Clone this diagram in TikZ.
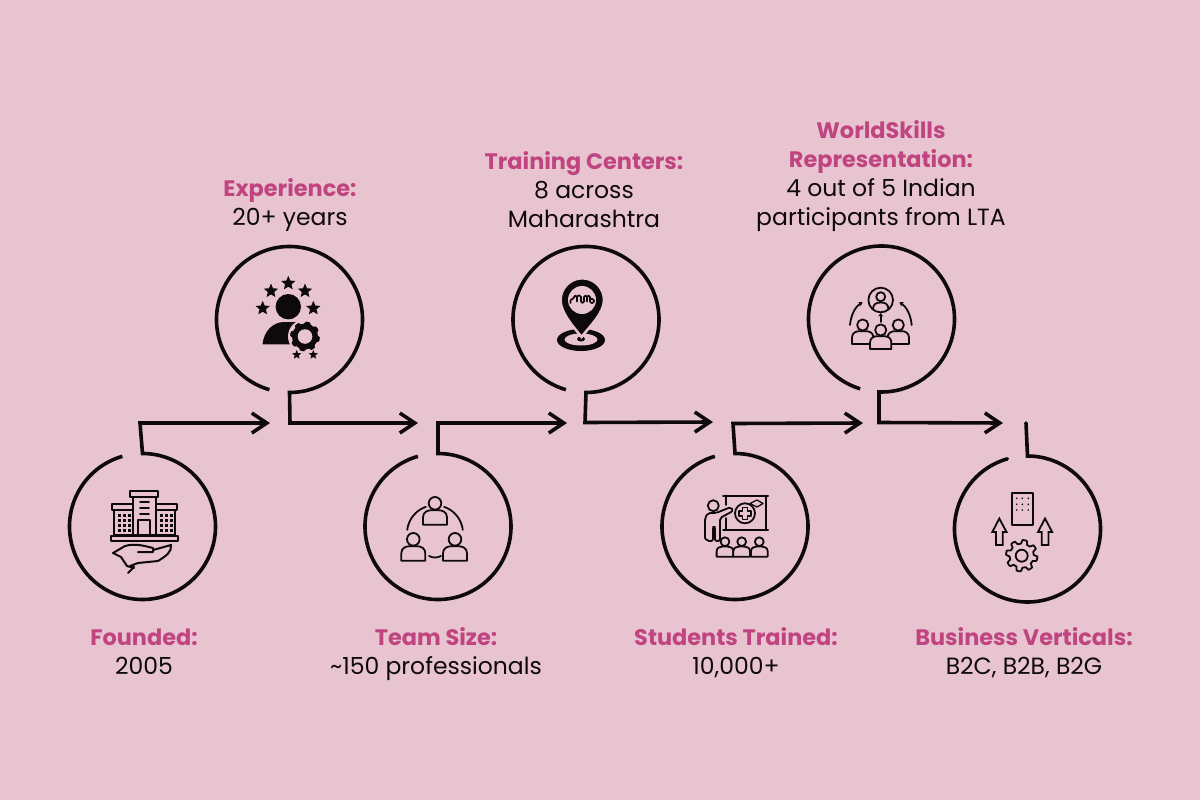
\documentclass[tikz,border=0pt]{standalone}
\usepackage{fontspec}
\setmainfont{Poppins}
\usetikzlibrary{arrows.meta}
\definecolor{pagepink}{HTML}{E8C4D0}
\definecolor{headpink}{HTML}{C0447F}
\definecolor{inkblack}{HTML}{0E0A0C}
\newcommand{\hd}[1]{\textcolor{headpink}{\fontsize{22.4}{29}\selectfont\textbf{#1}}}
\tikzset{
	flow/.style={draw=inkblack,line width=3.6pt,line join=miter},
	flowarrow/.style={flow,-{Straight Barb[length=15pt,width=20pt,line width=3.6pt]}},
	thinline/.style={draw=inkblack,line width=1.8pt,line join=round,line cap=round},
	caption/.style={align=center,text=inkblack,inner sep=0pt,font=\fontsize{23.5}{29}\selectfont}
}
\newcommand{\bust}[3]{\begin{scope}[shift={(#1,#2)},scale=#3]
		\draw[thinline,fill=pagepink] (-1.9,3.4) -- (-1.9,2.2) .. controls (-1.9,1.4) and (-1.2,1.1) .. (-0.6,1.1) -- (0.6,1.1) .. controls (1.2,1.1) and (1.9,1.4) .. (1.9,2.2) -- (1.9,3.4) -- cycle;
		\draw[thinline,fill=pagepink] (0,0) circle[radius=1];
		\end{scope}}
\newcommand{\starmark}[3]{\fill[inkblack] (#1,#2) +(-90:#3) -- +(-54:#3*0.45) -- +(-18:#3) -- +(18:#3*0.45) -- +(54:#3) -- +(90:#3*0.45) -- +(126:#3) -- +(162:#3*0.45) -- +(198:#3) -- +(234:#3*0.45) -- cycle;}
\newcommand{\gearmark}[5]{\draw[#5] plot[domain=0:360,samples=181,variable=\ga] ({#1+((#3+#4)/2+(#3-#4)/2*max(-1,min(1,2.2*sin(8*\ga))))*cos(\ga)},{#2+((#3+#4)/2+(#3-#4)/2*max(-1,min(1,2.2*sin(8*\ga))))*sin(\ga)}) -- cycle;}
\begin{document}
\begin{tikzpicture}[x=1pt,y=1pt,yscale=-1]
		\useasboundingbox (0,0) rectangle (1200,800);
		\fill[pagepink] (0,0) rectangle (1200,800);
		\coordinate (C1) at (142.5,526.5);
		\coordinate (C2) at (289.5,319.5);
		\coordinate (C3) at (438,526.5);
		\coordinate (C4) at (586,319.5);
		\coordinate (C5) at (735,526.5);
		\coordinate (C6) at (881.5,319);
		\coordinate (C7) at (1027.5,529);
		\coordinate (S1) at (140,423);
		\coordinate (T1) at (270,423);
		\coordinate (S2) at (290,423);
		\coordinate (T2) at (418,423);
		\coordinate (S3) at (438,423);
		\coordinate (T3) at (567,423);
		\coordinate (S4) at (585,422.5);
		\coordinate (T4) at (713,422);
		\coordinate (S5) at (733,423.5);
		\coordinate (T5) at (863,423);
		\coordinate (S6) at (879,422.5);
		\coordinate (T6) at (1003,423);
		\coordinate (S7) at (1026,423);
		\draw[flowarrow] (C1) ++(-106:73) arc[start angle=-106,end angle=-450,radius=73] -- (S1) -- (T1);
		\draw[flowarrow] (C2) ++(106:73) arc[start angle=106,end angle=450,radius=73] -- (S2) -- (T2);
		\draw[flowarrow] (C3) ++(-106:73) arc[start angle=-106,end angle=-450,radius=73] -- (S3) -- (T3);
		\draw[flowarrow] (C4) ++(106:73) arc[start angle=106,end angle=450,radius=73] -- (S4) -- (T4);
		\draw[flowarrow] (C5) ++(-106:73) arc[start angle=-106,end angle=-450,radius=73] -- (S5) -- (T5);
		\draw[flowarrow] (C6) ++(107:73) arc[start angle=107,end angle=452,radius=73] -- (S6) -- (T6);
		\draw[flow,line cap=round] (C7) ++(-106:73) arc[start angle=-106,end angle=-450,radius=73] -- (S7);
		\node[caption] (founded) at (144,651.5) {\hd{Founded:}\\2005};
		\node[caption] (experience) at (290,205.5) {\hd{Experience:}\\20+ years};
		\node[caption] (team) at (436,654) {\hd{Team Size:}\\\textasciitilde150 professionals};
		\node[caption] (centers) at (584,189.5) {\hd{Training Centers:}\\8 across\\Maharashtra};
		\node[caption] (students) at (736,652.5) {\hd{Students Trained:}\\10,000+};
		\node[caption] (skills) at (881,176) {\hd{WorldSkills}\\\hd{Representation:}\\4 out of 5 Indian\\participants from LTA};
		\node[caption] (verticals) at (1024,652.5) {\hd{Business Verticals:}\\B2C, B2B, B2G};
		\draw[thinline,line width=2pt] (130,491) rectangle (158,497);
		\draw[thinline,line width=2pt] (133,497) rectangle (156,535);
		\draw[thinline,line width=2pt] (112,504) rectangle (133,510);
		\draw[thinline,line width=2pt] (156,504) rectangle (177,510);
		\draw[thinline,line width=2pt] (114,510) rectangle (133,535);
		\draw[thinline,line width=2pt] (156,510) rectangle (175,535);
		\draw[thinline,line width=2.4pt] (111,536) rectangle (178,541);
		\draw[thinline,line width=2pt] (138,535) -- (138,520) -- (150,520) -- (150,535);
		\foreach \wy in {502,508,514} \draw[thinline] (140,\wy) -- (149,\wy);
		\foreach \wx in {119,124,129,161,166,171} \foreach \wy in {515,520,525,530} \fill[inkblack] (\wx-1.5,\wy-1.5) rectangle (\wx+1.5,\wy+1.5);
		\draw[thinline,line width=2pt] (113,553) -- (125,546) .. controls (135,543) and (145,546) .. (153,548) -- (153,552) -- (138,552);
		\draw[thinline,line width=2pt] (153,550) -- (171,545) .. controls (172,552) and (166,556) .. (158,561) -- (138,563) -- (130,566) -- (134,567) -- (128,573);
		\draw[thinline,line width=2pt] (113,553) -- (121,557) -- (127,566) -- (134,568);
		\fill[inkblack] (288.3,306.7) circle[radius=12.7];
		\fill[inkblack] (262.5,344.3) .. controls (264,330) and (274,322) .. (284,322) -- (300,322) -- (300,344.3) -- cycle;
		\fill[pagepink] (305,336.5) circle[radius=17];
		\gearmark{305}{336.5}{14.6}{12.6}{fill=inkblack}
		\fill[pagepink] (305,336.5) circle[radius=7.3];
		\starmark{288.3}{283.3}{7.5}
		\starmark{271}{291}{7.5}
		\starmark{305}{291}{7.5}
		\starmark{262.7}{308.3}{7.5}
		\starmark{313.3}{308.3}{7.5}
		\starmark{296.7}{354.8}{4.8}
		\starmark{313.3}{354.8}{4.8}
		\draw[thinline] (435,533.3) ++(187:28) arc[start angle=187,end angle=251,radius=28];
		\draw[thinline] (435,533.3) ++(289:28) arc[start angle=289,end angle=353,radius=28];
		\draw[thinline] (429,556) .. controls (433,558) and (437,558) .. (441,556);
		\bust{435}{503.3}{6.3}
		\bust{413.3}{539.3}{6.3}
		\bust{455}{539.3}{6.3}
		\fill[inkblack] (581,340) circle[x radius=24,y radius=11];
		\fill[pagepink] (581,339.5) circle[x radius=16.5,y radius=6];
		\fill[inkblack] (581,339) circle[x radius=4,y radius=2.5];
		\draw[draw=pagepink,line width=2.5pt,fill=inkblack] (560.6,300) arc[start angle=180,end angle=360,radius=21.7] .. controls (604,313) and (590,326) .. (581.5,337) .. controls (573,326) and (560.6,313) .. (560.6,300) -- cycle;
		\fill[pagepink] (582,300) circle[radius=14];
		\draw[thinline,line width=1.7pt,rounded corners=1.5pt] (570.5,303) -- (570.5,299) -- (574,299) -- (574,295.5) -- (577,295.5) -- (577,303) -- (577,295.5) -- (581,295.5) -- (581,303) -- (584,303) -- (584,295.5) -- (587,295.5) -- (587,303) -- (587,295.5) -- (590,295.5) -- (590,303) -- (594,303) -- (594,299) -- (590,299);
		\draw[thinline] (713.3,505.7) circle[radius=5.5];
		\draw[thinline,rounded corners=2pt] (705,538) -- (705,518) -- (708,513) -- (716,513) -- (731,507) -- (733,511) -- (720,518) -- (720,541) -- (715,541) -- (715,527) -- (713,527) -- (713,541) -- (707,541) -- (705,538);
		\draw[thinline,line width=2pt] (723,495.5) -- (768,495.5);
		\draw[thinline,line width=2pt] (723,529.5) -- (768,529.5);
		\draw[thinline] (725.7,495.5) -- (725.7,505);
		\draw[thinline] (725.7,518) -- (725.7,529.5);
		\draw[thinline] (766,495.5) -- (766,529.5);
		\draw[thinline] (745,513.3) circle[radius=10];
		\draw[thinline,line width=1.3pt] (742.5,507.5) -- (747.5,507.5) -- (747.5,511) -- (751,511) -- (751,516) -- (747.5,516) -- (747.5,519.5) -- (742.5,519.5) -- (742.5,516) -- (739,516) -- (739,511) -- (742.5,511) -- cycle;
		\draw[thinline,fill=pagepink,line width=1.3pt] (750,503.5) -- (757,500) -- (763,503.5) -- (757,507) -- cycle;
		\bust{725}{541.7}{4.4}
		\bust{741.7}{541.7}{4.4}
		\bust{759.3}{541.7}{4.4}
		\draw[thinline,-{Stealth[length=4pt,width=5pt]}] (850,325) .. controls (851,314) and (856,306) .. (862.7,302.3);
		\draw[thinline,-{Stealth[length=4pt,width=5pt]}] (911.7,325) .. controls (910.7,314) and (905.7,306) .. (899.3,302.3);
		\draw[thinline,-{Stealth[length=3.5pt,width=5pt]}] (880.7,322) -- (880.7,313);
		\draw[thinline] (880.7,300) circle[radius=12.3];
		\draw[thinline] (880.7,296.7) circle[radius=4.5];
		\draw[thinline] (873,309.5) .. controls (873,304) and (876,302.5) .. (880.7,302.5) .. controls (885.4,302.5) and (888.4,304) .. (888.4,309.5);
		\bust{862.7}{325}{5.6}
		\bust{898.3}{325}{5.6}
		\bust{880.7}{330}{5.6}
		\draw[thinline] (1011.7,493.3) rectangle (1033.3,525);
		\foreach \dx in {1016.7,1022.3,1028.3} \foreach \dy in {498.3,504.3,510} \fill[inkblack] (\dx,\dy) circle[radius=0.9];
		\draw[thinline,line join=miter] (999.3,518.5) -- (1006.5,532) -- (1002.7,532) -- (1002.7,545) -- (996,545) -- (996,532) -- (992.3,532) -- cycle;
		\draw[thinline,line join=miter] (1045,518.5) -- (1052.2,532) -- (1048.4,532) -- (1048.4,545) -- (1041.7,545) -- (1041.7,532) -- (1038,532) -- cycle;
		\gearmark{1021.7}{555.7}{15.7}{12}{thinline}
		\draw[thinline] (1021.7,555.7) circle[radius=6];
		\end{tikzpicture}
\end{document}
